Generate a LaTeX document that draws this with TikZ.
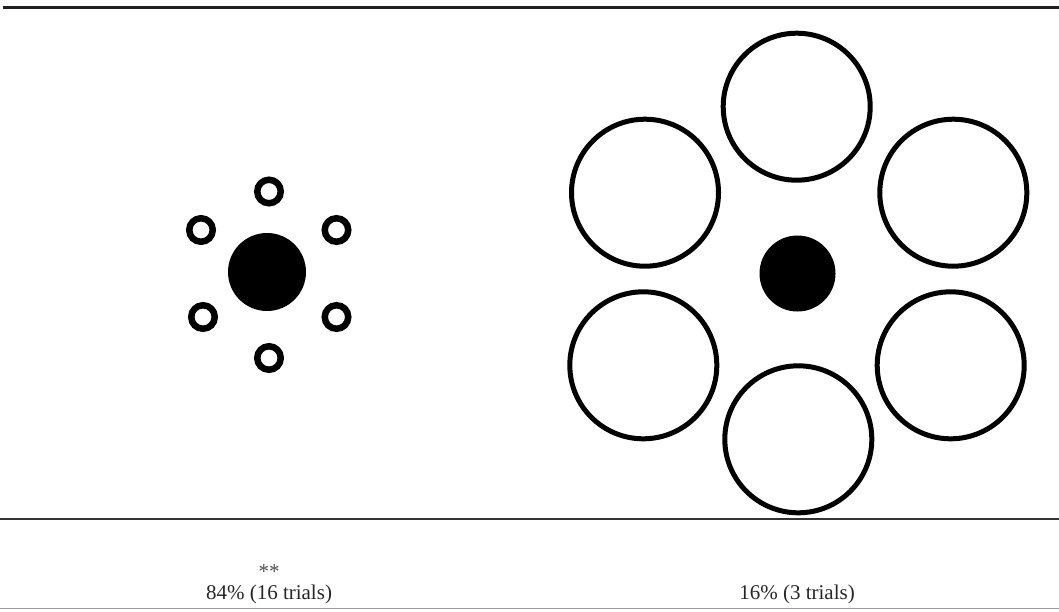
\documentclass[tikz,border=0pt]{standalone}
\usepackage{fontspec}
\setmainfont{Liberation Serif}
\begin{document}
\begin{tikzpicture}[x=1pt,y=-1pt,
  small/.style={circle,draw=black,line width=6.5pt,minimum size=23.5pt,inner sep=0pt},
  big/.style={circle,draw=black,line width=5pt,minimum size=147pt,inner sep=0pt},
  disk/.style={circle,fill=black,inner sep=0pt},
  lbl/.style={font=\fontsize{21}{25}\selectfont,text=black!85,inner sep=0pt},
  toprule/.style={draw=black!87,line width=2.6pt},
  midrule/.style={draw=black!80,line width=1.2pt},
  botrule/.style={draw=black!40,line width=1.6pt}]
\useasboundingbox (0,0) rectangle (1059,611);
% rules
\coordinate (t1) at (3,7.5);
\coordinate (t2) at (1059,7.5);
\coordinate (m1) at (0,519);
\coordinate (m2) at (1059,519);
\coordinate (b1) at (0,608.5);
\coordinate (b2) at (1059,608.5);
\draw[toprule] (t1) -- (t2);
\draw[midrule] (m1) -- (m2);
\draw[botrule] (b1) -- (b2);
% left figure
\node[disk,minimum size=78pt] (lc) at (267,272) {};
\node[small] (l1) at (269,191.5) {};
\node[small] (l2) at (201,230) {};
\node[small] (l3) at (336.5,230) {};
\node[small] (l4) at (203,317) {};
\node[small] (l5) at (336.5,317) {};
\node[small] (l6) at (269,358) {};
% right figure
\node[disk,minimum size=76pt] (rc) at (797.5,273.5) {};
\node[big] (r1) at (796.7,106.7) {};
\node[big] (r2) at (645,192.7) {};
\node[big] (r3) at (953.3,192.7) {};
\node[big] (r4) at (643.3,365.3) {};
\node[big] (r5) at (950.7,365.3) {};
\node[big] (r6) at (798.3,439.3) {};
% labels
\node[lbl,anchor=base,text=black!70] (sig) at (269,578) {**};
\node[lbl] (pl) at (269,594) {84\% (16 trials)};
\node[lbl] (pr) at (797,594) {16\% (3 trials)};
\end{tikzpicture}
\end{document}
